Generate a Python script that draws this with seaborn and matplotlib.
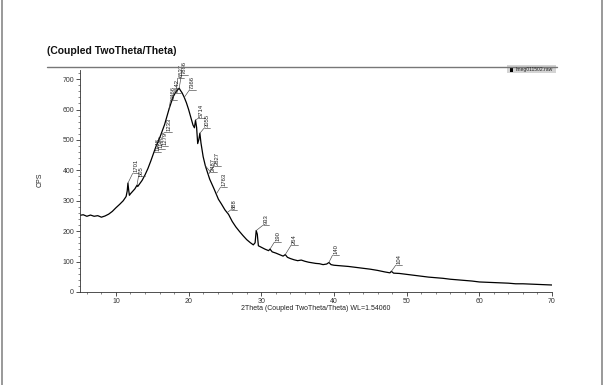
import numpy as np
import matplotlib
matplotlib.use("Agg")
import matplotlib.pyplot as plt
from matplotlib.ticker import MultipleLocator
from matplotlib.lines import Line2D
from matplotlib.patches import Rectangle
import seaborn as sns

# scan: 2theta (deg) and counts
two_theta = [5.0, 5.5, 6.0, 6.5, 7.0, 7.5, 8.0, 8.5, 9.0, 9.5, 10.0, 10.5, 11.0, 11.4,
             11.55, 11.65, 11.75, 11.85, 12.0, 12.3, 12.6, 12.9, 13.0, 13.3, 13.6, 14.0,
             14.4, 14.8, 15.2, 15.5, 15.8, 16.1, 16.4, 16.7, 17.0, 17.3, 17.6, 17.9, 18.2,
             18.5, 18.7, 18.9, 19.1, 19.4, 19.7, 20.0, 20.3, 20.6, 20.8, 20.95, 21.1, 21.25,
             21.4, 21.55, 21.7, 22.0, 22.3, 22.6, 22.9, 23.2, 23.5, 23.8, 24.1, 24.5, 25.0,
             25.5, 26.0, 26.5, 27.0, 27.5, 28.0, 28.5, 28.9, 29.15, 29.3, 29.45, 29.6, 30.0,
             30.5, 31.0, 31.2, 31.5, 32.0, 32.5, 33.0, 33.3, 33.6, 34.0, 34.5, 35.0, 35.5,
             36.0, 36.5, 37.0, 37.5, 38.0, 38.5, 39.0, 39.3, 39.6, 40.0, 41.0, 42.0, 43.0,
             44.0, 45.0, 46.0, 47.0, 47.7, 47.9, 48.2, 49.0, 50.0, 51.0, 52.0, 53.0, 54.0,
             55.0, 56.0, 57.0, 58.0, 59.0, 60.0, 61.0, 62.0, 63.0, 64.0, 65.0, 66.0, 67.0,
             68.0, 69.0, 70.0]
cps = [252, 254, 249, 253, 249, 251, 246, 250, 256, 265, 277, 288, 300, 314,
       332, 358, 336, 318, 323, 331, 339, 351, 347, 357, 367, 385,
       406, 431, 458, 478, 495, 512, 531, 551, 576, 601, 623, 643, 656,
       665, 670, 662, 655, 640, 622, 600, 575, 549, 540, 565, 541, 488,
       501, 522, 490, 445, 415, 393, 371, 355, 339, 322, 305, 290, 270,
       255, 232, 214, 199, 185, 172, 162, 155, 162, 202, 190, 152, 147,
       141, 136, 141, 132, 128, 123, 118, 123, 114, 110, 106, 103, 105,
       101, 98, 96, 94, 93, 90, 92, 97, 90, 88, 86, 84, 81,
       78, 75, 71, 66, 63, 68, 62, 61, 58, 55, 52, 49, 47,
       45, 42, 40, 38, 36, 33, 32, 31, 30, 29, 27, 27, 26,
       25, 24, 23]

# peak labels
peak_pos = [11.65, 12.9, 15.3, 15.6, 15.9, 16.2, 17.3, 17.8, 18.3, 18.7, 19.4,
            20.95, 21.55, 22.3, 22.7, 23.8, 25.3, 29.3, 31.2, 33.3, 39.3, 47.9]
peak_text = ["1701", "505", "1148", "1190", "1279", "1233", "6466", "6542", "6537",
             "7886", "7366", "5714", "3055", "2487", "2827", "1763", "888", "933",
             "190", "264", "140", "104"]
label_x = [12.3, 13.1, 15.3, 15.8, 16.3, 16.8, 17.5, 18.0, 18.5, 19.0, 20.1,
           21.3, 22.1, 23.0, 23.5, 24.4, 25.8, 30.2, 31.8, 34.1, 39.8, 48.5]
label_base = [390, 380, 462, 470, 480, 525, 630, 654, 703, 713, 664,
              571, 538, 395, 415, 345, 270, 219, 164, 154, 121, 88]

sns.set_theme(style="ticks")
plt.rcParams['font.family'] = ['Liberation Sans', 'DejaVu Sans']

fig = plt.figure(figsize=(6.05, 3.85), dpi=100)
ax = fig.add_axes([79.6 / 605, 93 / 385, 472.4 / 605, 222 / 385])

sns.lineplot(x=two_theta, y=cps, ax=ax, color='black', lw=0.9, estimator=None)

ax.set_xlim(5, 70)
ax.set_ylim(0, 730)
ax.xaxis.set_major_locator(MultipleLocator(10))
ax.xaxis.set_minor_locator(MultipleLocator(2))
ax.yaxis.set_major_locator(MultipleLocator(100))
ax.yaxis.set_minor_locator(MultipleLocator(20))
ax.tick_params(axis='both', which='major', labelsize=5, length=3, width=0.6,
               colors='#333333', pad=1)
ax.tick_params(axis='both', which='minor', length=1.5, width=0.5, color='#555555')
for s in ['top', 'right']:
    ax.spines[s].set_visible(False)
for s in ['left', 'bottom']:
    ax.spines[s].set_linewidth(0.6)
    ax.spines[s].set_color('#333333')
ax.set_xlabel("")
ax.set_ylabel("")

# peak labels
for px, txt, tx, base in zip(peak_pos, peak_text, label_x, label_base):
    py = np.interp(px, two_theta, cps)
    ax.plot([px, tx], [py, base], color='#444444', lw=0.45, clip_on=False)
    ax.plot([tx, tx + 0.9], [base, base], color='#444444', lw=0.45, clip_on=False)
    ax.text(tx + 0.45, base + 3, txt, rotation=90, fontsize=4.2, color='#222222',
            ha='center', va='bottom', clip_on=False)

# texts around the plot
fig.text(47 / 605, 1 - 51 / 385, "(Coupled TwoTheta/Theta)", fontsize=7.5,
         fontweight='bold', ha='left', va='center', color='#111111')
fig.add_artist(Line2D([47 / 605, 557 / 605], [1 - 67 / 385, 1 - 67 / 385],
                      color='#777777', lw=1.0))
fig.text(316 / 605, 1 - 309 / 385, "2Theta (Coupled TwoTheta/Theta) WL=1.54060",
         fontsize=5, ha='center', va='center', color='#222222')
fig.text(40 / 605, 1 - 180 / 385, "CPS", fontsize=5, rotation=90,
         ha='center', va='center', color='#222222')

# legend box
fig.add_artist(Rectangle((507 / 605, 1 - 73 / 385), 49 / 605, 8 / 385,
                         transform=fig.transFigure, fc='#d4d4d4', ec='none'))
fig.add_artist(Rectangle((510 / 605, 1 - 71.5 / 385), 2.5 / 605, 5 / 385,
                         transform=fig.transFigure, fc='black', ec='none'))
fig.text(515 / 605, 1 - 69 / 385, "Imeg011502.raw", fontsize=3.6, ha='left',
         va='center', color='#222222')

# page frame
fig.add_artist(Line2D([2 / 605, 2 / 605], [0, 1], color='#888888', lw=1.2))
fig.add_artist(Line2D([602 / 605, 602 / 605], [0, 1], color='#888888', lw=1.2))

fig.savefig("out.png", dpi=100)
